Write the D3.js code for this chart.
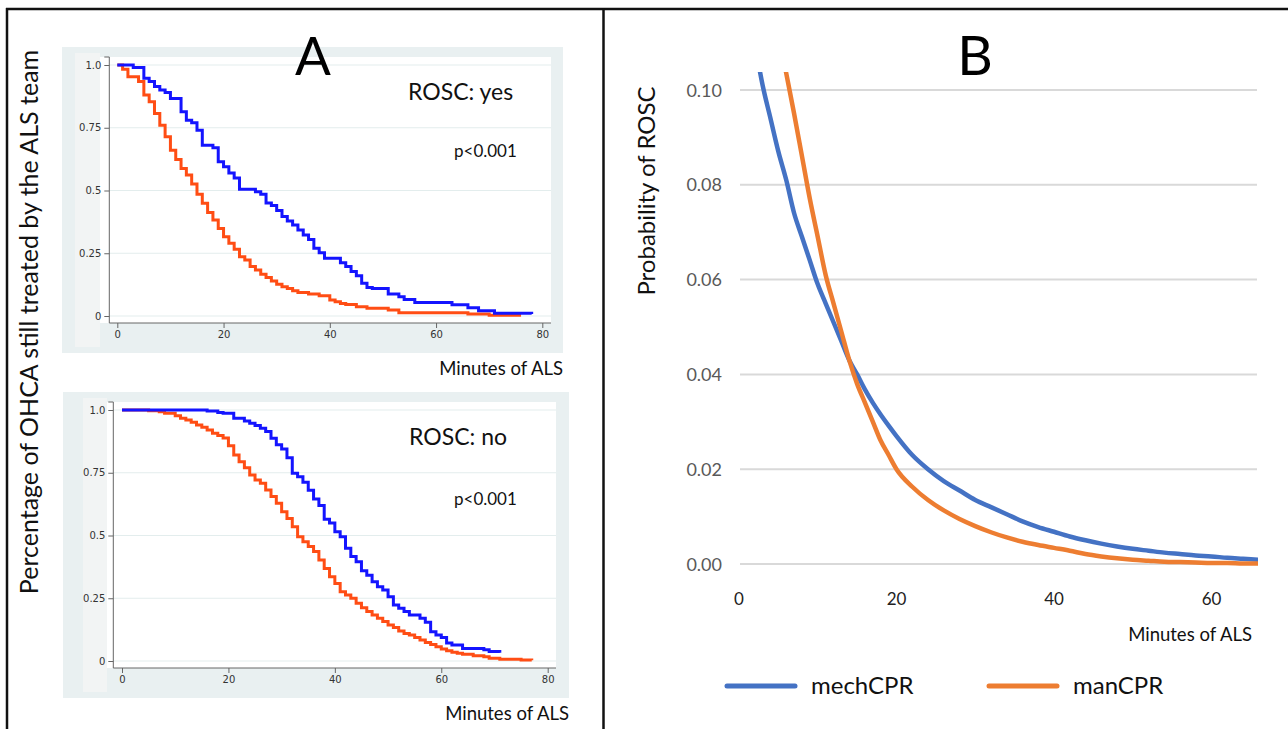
<!DOCTYPE html>
<html>
<head>
<meta charset="utf-8">
<script src="https://cdn.jsdelivr.net/npm/d3@7"></script>
<style>
  body { margin:0; background:#fff; }
  text { font-family: Lato, "Open Sans", sans-serif; }
  .stata text { font-family: "DejaVu Sans", sans-serif; }
</style>
</head>
<body>
<div id="chart"></div>
<script>
// Panel A, ROSC yes (Kaplan-Meier steps)
const yesMechTime = [0,3,5,6,7,8,9,10,12,13,14,15,16,18,19,20,21,22,23,26,27,28,29,30,31,32,33,34,35,36,37,38,39,42,43,44,45,46,47,48,51,53,54,56,63,66,68,71,78]
const yesMechSurv = [1.0,0.99,0.947,0.934,0.914,0.90,0.89,0.867,0.814,0.78,0.77,0.74,0.68,0.67,0.615,0.595,0.57,0.55,0.505,0.495,0.485,0.45,0.44,0.42,0.396,0.378,0.363,0.343,0.323,0.305,0.27,0.252,0.23,0.212,0.197,0.177,0.16,0.13,0.114,0.11,0.088,0.077,0.066,0.054,0.045,0.033,0.021,0.011,0.008]
const yesManTime = [0,1,2,4,5,6,7,8,9,10,11,12,13,14,15,16,17,18,19,20,21,22,23,24,25,26,27,28,29,30,31,32,33,34,36,38,40,41,42,43,45,47,51,53,66,70,76]
const yesManSurv = [1.0,0.983,0.953,0.934,0.88,0.854,0.807,0.76,0.714,0.66,0.624,0.588,0.562,0.526,0.485,0.449,0.412,0.382,0.349,0.316,0.29,0.266,0.236,0.223,0.197,0.183,0.166,0.153,0.139,0.126,0.117,0.11,0.101,0.094,0.088,0.081,0.064,0.057,0.05,0.046,0.037,0.031,0.024,0.013,0.008,0.003,0.003]

// Panel A, ROSC no
const noMechTime = [0,16,18,19,21,23,24,25,26,27,28,29,30,31,32,33,34,35,36,37,38,39,40,41,42,43,44,45,46,47,48,49,50,51,52,53,54,56,57,58,59,60,61,62,64,68,69,71]
const noMechSurv = [1.0,0.996,0.99,0.987,0.967,0.956,0.947,0.938,0.927,0.914,0.887,0.862,0.845,0.81,0.748,0.734,0.712,0.68,0.645,0.62,0.565,0.55,0.515,0.495,0.449,0.416,0.395,0.36,0.342,0.316,0.296,0.283,0.256,0.223,0.21,0.197,0.183,0.17,0.154,0.117,0.104,0.094,0.072,0.064,0.05,0.045,0.038,0.033]
const noManTime = [0,5,7,8,10,11,12,13,14,15,16,17,18,19,20,21,22,23,24,25,26,27,28,29,30,31,32,33,34,35,36,37,38,39,40,41,42,43,44,45,46,47,48,49,50,51,52,53,54,55,56,57,58,59,60,61,62,63,64,66,68,69,71,75,77]
const noManSurv = [1.0,0.997,0.993,0.987,0.977,0.967,0.96,0.951,0.94,0.931,0.92,0.907,0.898,0.888,0.858,0.821,0.794,0.77,0.741,0.721,0.708,0.681,0.655,0.628,0.595,0.568,0.535,0.495,0.475,0.456,0.436,0.402,0.369,0.336,0.309,0.276,0.263,0.25,0.23,0.212,0.197,0.183,0.17,0.157,0.143,0.133,0.12,0.11,0.104,0.094,0.084,0.074,0.066,0.057,0.048,0.041,0.035,0.031,0.027,0.021,0.017,0.011,0.007,0.004,0.003]

const kmTicksY = [0,0.25,0.5,0.75,1]
const kmTickLabels = ["0","0.25","0.5","0.75","1.0"]
const kmTicksX = [0,20,40,60,80]

// Panel B, probability of ROSC by minute
const mechMinutes = [2,3,4,5,6,7,8,9,10,11,12,13,14,15,16,17,18,19,20,22,24,26,28,30,32,34,36,38,40,42,44,46,48,50,52,54,56,58,60,62,64,66]
const mechProb = [0.110,0.101,0.094,0.087,0.081,0.074,0.069,0.064,0.059,0.055,0.051,0.047,0.043,0.040,0.0368,0.0340,0.0315,0.0292,0.027,0.023,0.020,0.0175,0.0155,0.0135,0.012,0.0105,0.0090,0.0078,0.0068,0.0058,0.0050,0.0043,0.0037,0.0032,0.0028,0.0024,0.0021,0.0018,0.0016,0.0013,0.0011,0.0009]
const manMinutes = [5,6,7,8,9,10,11,12,13,14,15,16,17,18,19,20,22,24,26,28,30,32,34,36,38,40,42,44,46,48,50,52,54,56,58,60,62,64,66]
const manProb = [0.112,0.1035,0.095,0.086,0.077,0.069,0.061,0.055,0.049,0.043,0.038,0.034,0.030,0.026,0.023,0.020,0.0163,0.0135,0.0113,0.0095,0.0080,0.0067,0.0056,0.0047,0.0040,0.0034,0.0028,0.0021,0.0016,0.0012,0.0009,0.0007,0.0005,0.0004,0.0003,0.0002,0.0002,0.0001,0.0001]
const probTicks = [0,0.02,0.04,0.06,0.08,0.10]
const minuteTicks = [0,20,40,60]

const blueKM = "#1414ff", redKM = "#ff4d14"
const mechColor = "#4472c4", manColor = "#ed7d31"

const svg = d3.select("#chart").append("svg").attr("width",1288).attr("height",729)
svg.append("rect").attr("width",1288).attr("height",729).attr("fill","#fff")

const zip = (t,s) => t.map((d,i)=>({t:d, s:s[i]}))

const kmPanel = (p) => {
  const g = svg.append("g").attr("class","stata")
  g.append("rect").attr("x",p.bg[0]).attr("y",p.bg[1]).attr("width",p.bg[2]).attr("height",p.bg[3]).attr("fill","#e9f0f1")
  g.append("rect").attr("x",p.strip[0]).attr("y",p.strip[1]).attr("width",p.strip[2]).attr("height",p.strip[3]).attr("fill","#f2f4f4")
  g.append("rect").attr("x",p.plot[0]).attr("y",p.plot[1]).attr("width",p.plot[2]).attr("height",p.plot[3]).attr("fill","#fff")

  const x = d3.scaleLinear().domain([0,80]).range(p.xr)
  const y = d3.scaleLinear().domain([0,1]).range(p.yr)

  // grid
  g.selectAll(".grid").data(kmTicksY).enter().append("line")
    .attr("x1",p.axisX).attr("x2",p.plot[0]+p.plot[2])
    .attr("y1",d=>y(d)).attr("y2",d=>y(d))
    .attr("stroke","#e3eded").attr("stroke-width",1.2)

  const yAxis = d3.axisLeft(y).tickValues(kmTicksY).tickSize(5).tickPadding(3)
    .tickFormat((d,i)=>kmTickLabels[i])
  const yG = g.append("g").attr("transform",`translate(${p.axisX},0)`).call(yAxis)
  yG.select(".domain").attr("d",`M-5,${p.plot[1]}H0V${p.axisY}`).attr("stroke","#666")
  yG.selectAll(".tick line").attr("stroke","#666")
  yG.selectAll("text").attr("font-size",10).attr("fill","#333")

  const xAxis = d3.axisBottom(x).tickValues(kmTicksX).tickSize(5).tickPadding(3)
  const xG = g.append("g").attr("transform",`translate(0,${p.axisY})`).call(xAxis)
  xG.select(".domain").attr("d",`M${p.axisX},0H${p.plot[0]+p.plot[2]}`).attr("stroke","#666")
  xG.selectAll(".tick line").attr("stroke","#666")
  xG.selectAll("text").attr("font-size",10).attr("fill","#333")

  const line = d3.line().x(d=>x(d.t)).y(d=>y(d.s)).curve(d3.curveStepAfter)
  g.append("path").datum(p.man).attr("d",line).attr("fill","none").attr("stroke",redKM).attr("stroke-width",3)
  g.append("path").datum(p.mech).attr("d",line).attr("fill","none").attr("stroke",blueKM).attr("stroke-width",3)

  svg.append("text").attr("x",p.label[0]).attr("y",p.label[1]).attr("font-size",23).attr("fill","#111").text(p.title)
  svg.append("text").attr("x",p.pval[0]).attr("y",p.pval[1]).attr("font-size",17).attr("fill","#111").text("p<0.001")
  svg.append("text").attr("x",p.xlab[0]).attr("y",p.xlab[1]).attr("text-anchor","end").attr("font-size",18.5).attr("fill","#111").text("Minutes of ALS")
}

kmPanel({
  bg:[62,47,501,306], strip:[75,53,25,294], plot:[100,57,451,266],
  xr:[117.3,542.3], yr:[316,65], axisX:109.3, axisY:323,
  mech: zip(yesMechTime,yesMechSurv), man: zip(yesManTime,yesManSurv),
  title:"ROSC: yes", label:[408,100], pval:[454,157], xlab:[563,375]
})
kmPanel({
  bg:[63,392,506,306], strip:[83,398,24,294], plot:[107,402,449,266],
  xr:[122,547.7], yr:[661,410], axisX:113.3, axisY:668,
  mech: zip(noMechTime,noMechSurv), man: zip(noManTime,noManSurv),
  title:"ROSC: no", label:[409,445], pval:[454,505], xlab:[569,720]
})

// panel A labels
svg.append("text").attr("x",313).attr("y",75).attr("text-anchor","middle").attr("font-size",53).attr("fill","#000").text("A")
svg.append("text").attr("transform","translate(38,322) rotate(-90)").attr("text-anchor","middle")
  .attr("font-size",25).attr("fill","#111").text("Percentage of OHCA still treated by the ALS team")

// Panel B
const xB = d3.scaleLinear().domain([0,66]).range([739,1258.75])
const yB = d3.scaleLinear().domain([0,0.1]).range([564,90])
const gB = svg.append("g")
gB.selectAll(".gridB").data(probTicks).enter().append("line")
  .attr("x1",740).attr("x2",1257).attr("y1",d=>yB(d)).attr("y2",d=>yB(d))
  .attr("stroke","#d9d9d9").attr("stroke-width",2)
gB.selectAll(".ylab").data(probTicks).enter().append("text")
  .attr("x",722).attr("y",d=>yB(d)+6.5).attr("text-anchor","end")
  .attr("font-size",18).attr("fill","#595959").text(d=>d3.format(".2f")(d))
gB.selectAll(".xlab").data(minuteTicks).enter().append("text")
  .attr("x",d=>xB(d)).attr("y",605).attr("text-anchor","middle")
  .attr("font-size",17).attr("fill","#222").text(d=>d)

svg.append("clipPath").attr("id","clipB").append("rect").attr("x",730).attr("y",72).attr("width",528).attr("height",510)
const lineB = d3.line().x(d=>xB(d.t)).y(d=>yB(d.s)).curve(d3.curveMonotoneX)
gB.append("path").datum(zip(mechMinutes,mechProb)).attr("d",lineB).attr("clip-path","url(#clipB)")
  .attr("fill","none").attr("stroke",mechColor).attr("stroke-width",4.5)
gB.append("path").datum(zip(manMinutes,manProb)).attr("d",lineB).attr("clip-path","url(#clipB)")
  .attr("fill","none").attr("stroke",manColor).attr("stroke-width",4.5)

svg.append("text").attr("x",975).attr("y",75).attr("text-anchor","middle").attr("font-size",55).attr("fill","#000").text("B")
svg.append("text").attr("transform","translate(655,191) rotate(-90)").attr("text-anchor","middle")
  .attr("font-size",24).attr("fill","#111").text("Probability of ROSC")
svg.append("text").attr("x",1252).attr("y",641).attr("text-anchor","end").attr("font-size",18.5).attr("fill","#111").text("Minutes of ALS")

// legend
const legend = [{name:"mechCPR",color:mechColor,x:727},{name:"manCPR",color:manColor,x:989}]
const lg = svg.selectAll(".lg").data(legend).enter().append("g")
lg.append("line").attr("x1",d=>d.x).attr("x2",d=>d.x+68).attr("y1",686).attr("y2",686)
  .attr("stroke",d=>d.color).attr("stroke-width",5).attr("stroke-linecap","round")
lg.append("text").attr("x",d=>d.x+84).attr("y",694).attr("font-size",24).attr("fill","#111").text(d=>d.name)

// frame
svg.append("line").attr("x1",6).attr("x2",1288).attr("y1",9).attr("y2",9).attr("stroke","#111").attr("stroke-width",2.5)
svg.append("line").attr("x1",7).attr("x2",7).attr("y1",8).attr("y2",729).attr("stroke","#111").attr("stroke-width",2.5)
svg.append("line").attr("x1",603.5).attr("x2",603.5).attr("y1",8).attr("y2",729).attr("stroke","#111").attr("stroke-width",2.5)
</script>
</body>
</html>
